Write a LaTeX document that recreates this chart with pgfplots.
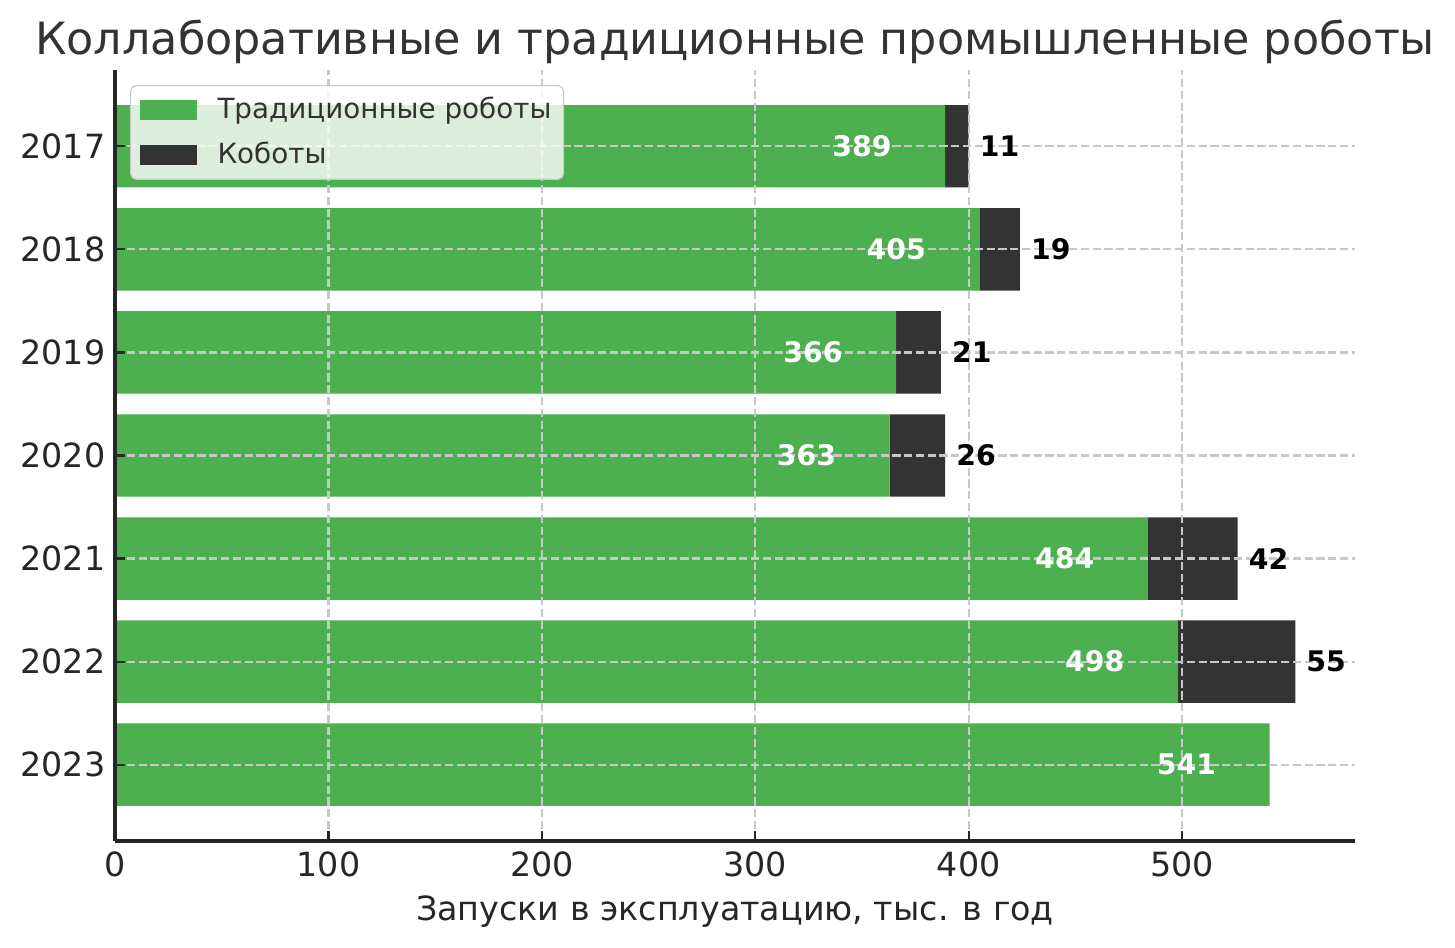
\documentclass[border=0pt]{standalone}
\usepackage{fontspec}
\setmainfont{DejaVu Sans}
\usepackage{pgfplots}
\usepackage{pgfplotstable}
\pgfplotsset{compat=1.18}

\definecolor{trad}{HTML}{4CAF50}
\definecolor{cobot}{HTML}{333333}
\definecolor{gridc}{HTML}{C8C8C8}
\definecolor{axc}{HTML}{262626}
\definecolor{txt}{HTML}{333333}

% idx: 6 = 2017 (top) ... 0 = 2023 (bottom)
\pgfplotstableread{
idx year trad cobot
6 2017 389 11
5 2018 405 19
4 2019 366 21
3 2020 363 26
2 2021 484 42
1 2022 498 55
0 2023 541 0
}\data

\begin{document}
\begin{tikzpicture}
\begin{axis}[
    name=ax,
    scale only axis,
    width=446.4pt, height=277.56pt,
    xbar stacked,
    bar width=0.8,
    xmin=0, xmax=581,
    ymin=-0.74, ymax=6.74,
    xtick={0,100,...,500},
    ytick={0,...,6},
    yticklabels={2023,2022,2021,2020,2019,2018,2017},
    axis x line*=bottom,
    axis y line*=left,
    axis line style={draw=axc, line width=1.1pt},
    major tick style={draw=axc, line width=0.8pt},
    major tick length=3.5pt,
    tick align=inside,
    xmajorgrids, ymajorgrids,
    major grid style={draw=gridc, line width=0.8pt, dash pattern=on 2.96pt off 1.28pt},
    axis on top,
    /pgf/number format/assume math mode=true,
    ticklabel style={font=\fontsize{12}{14}\selectfont, text=axc},
    xticklabel style={anchor=base, yshift=-12.96pt},
    yticklabel style={anchor=east, inner sep=0pt, xshift=-3.3pt},
    xlabel={Запуски в эксплуатацию, тыс. в год},
    xlabel style={at={(axis description cs:0.5,0)}, anchor=base, yshift=-28.8pt,
        font=\fontsize{12}{14}\selectfont, text=axc},
    legend style={at={(0.0121,0.9805)}, anchor=north west,
        draw=gridc, rounded corners=2pt, fill=white, fill opacity=0.8,
        text opacity=1, draw opacity=1,
        font=\fontsize{10}{12}\selectfont, text=txt,
        inner xsep=3.4pt, inner ysep=3.2pt, row sep=4.8pt,
        nodes={inner sep=1pt}},
    legend cell align=left,
    legend image code/.code={
        \fill[#1, fill opacity=1, sharp corners] (0pt,-3.6pt) rectangle (20.5pt,3.6pt);},
    /tikz/every odd column/.append style={column sep=6.4pt},
]
\addplot[fill=trad, draw=none] table[x=trad, y=idx] {\data};
\addplot[fill=cobot, draw=none] table[x=cobot, y=idx] {\data};
\legend{Традиционные роботы, Коботы}

\coordinate (t6) at (axis cs:350,6);
\coordinate (t5) at (axis cs:366,5);
\coordinate (t4) at (axis cs:327,4);
\coordinate (t3) at (axis cs:324,3);
\coordinate (t2) at (axis cs:445,2);
\coordinate (t1) at (axis cs:459,1);
\coordinate (t0) at (axis cs:502,0);
\coordinate (c6) at (axis cs:405,6);
\coordinate (c5) at (axis cs:429,5);
\coordinate (c4) at (axis cs:392,4);
\coordinate (c3) at (axis cs:394,3);
\coordinate (c2) at (axis cs:531,2);
\coordinate (c1) at (axis cs:558,1);
\end{axis}

\begin{scope}[every node/.style={font=\fontsize{10.2}{12}\bfseries\selectfont, inner sep=0pt}]
\node[text=white] at (t6) {389};
\node[text=white] at (t5) {405};
\node[text=white] at (t4) {366};
\node[text=white] at (t3) {363};
\node[text=white] at (t2) {484};
\node[text=white] at (t1) {498};
\node[text=white] at (t0) {541};
\node[anchor=west] at (c6) {11};
\node[anchor=west] at (c5) {19};
\node[anchor=west] at (c4) {21};
\node[anchor=west] at (c3) {26};
\node[anchor=west] at (c2) {42};
\node[anchor=west] at (c1) {55};
\end{scope}

\node[anchor=base, text=txt, font=\fontsize{16}{19}\selectfont] at (223.2pt,282.96pt)
    {Коллаборативные и традиционные промышленные роботы};

\pgfresetboundingbox
\path[use as bounding box] (-41.4pt,-38.52pt) rectangle (482.4pt,302.76pt);
\end{tikzpicture}
\end{document}
